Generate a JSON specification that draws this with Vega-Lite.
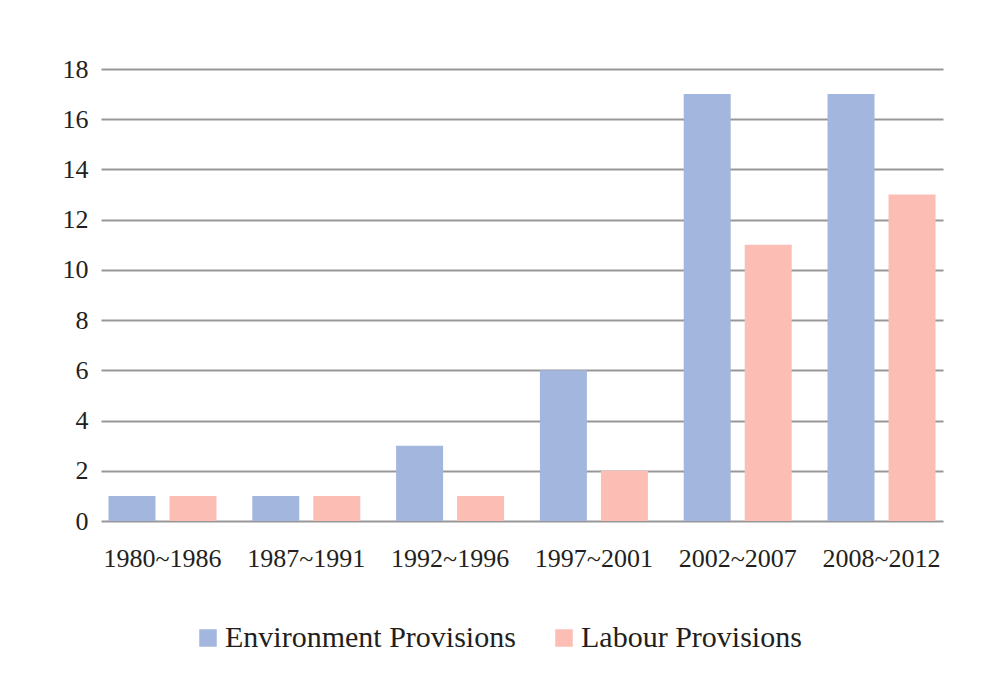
{
  "$schema": "https://vega.github.io/schema/vega-lite/v6.json",
  "autosize": {"type": "none"},
  "padding": {"left": 101, "top": 69, "right": 55, "bottom": 166},
  "width": 842,
  "height": 452,
  "background": "white",
  "config": {
    "view": {"stroke": null},
    "font": "Liberation Serif",
    "axis": {"labelFont": "Liberation Serif", "labelColor": "#231f20", "labelFontSize": 26}
  },
  "data": {
    "values": [
      {"period": "1980~1986", "type": "Environment Provisions", "count": 1},
      {"period": "1980~1986", "type": "Labour Provisions", "count": 1},
      {"period": "1987~1991", "type": "Environment Provisions", "count": 1},
      {"period": "1987~1991", "type": "Labour Provisions", "count": 1},
      {"period": "1992~1996", "type": "Environment Provisions", "count": 3},
      {"period": "1992~1996", "type": "Labour Provisions", "count": 1},
      {"period": "1997~2001", "type": "Environment Provisions", "count": 6},
      {"period": "1997~2001", "type": "Labour Provisions", "count": 2},
      {"period": "2002~2007", "type": "Environment Provisions", "count": 17},
      {"period": "2002~2007", "type": "Labour Provisions", "count": 11},
      {"period": "2008~2012", "type": "Environment Provisions", "count": 17},
      {"period": "2008~2012", "type": "Labour Provisions", "count": 13}
    ]
  },
  "mark": {"type": "bar"},
  "encoding": {
    "x": {
      "field": "period",
      "type": "nominal",
      "sort": null,
      "scale": {"paddingInner": 0.249, "paddingOuter": 0.052},
      "axis": {
        "title": null,
        "labelAngle": 0,
        "domain": false,
        "ticks": false,
        "tickSize": 0,
        "labelPadding": 24,
        "grid": false
      }
    },
    "xOffset": {
      "field": "type",
      "type": "nominal",
      "sort": ["Environment Provisions", "Labour Provisions"],
      "scale": {"paddingInner": 0.2295, "paddingOuter": 0}
    },
    "y": {
      "field": "count",
      "type": "quantitative",
      "scale": {"domain": [0, 18], "nice": false},
      "axis": {
        "title": null,
        "values": [0, 2, 4, 6, 8, 10, 12, 14, 16, 18],
        "domain": false,
        "ticks": false,
        "tickSize": 0,
        "labelPadding": 13,
        "grid": true,
        "gridColor": "#979797",
        "gridWidth": 2,
        "gridOpacity": 1,
        "zindex": 0
      }
    },
    "color": {
      "field": "type",
      "type": "nominal",
      "sort": ["Environment Provisions", "Labour Provisions"],
      "scale": {
        "domain": ["Environment Provisions", "Labour Provisions"],
        "range": ["#a3b6dd", "#fbbdb4"]
      },
      "legend": {
        "title": null,
        "orient": "none",
        "direction": "horizontal",
        "legendX": 92,
        "legendY": 554,
        "padding": 0,
        "symbolType": "square",
        "symbolSize": 306,
        "symbolStrokeWidth": 0,
        "symbolOpacity": 1,
        "labelFont": "Liberation Serif",
        "labelFontSize": 30,
        "labelColor": "#231f20",
        "labelOffset": 2,
        "columnPadding": 33,
        "labelLimit": 0
      }
    }
  }
}
